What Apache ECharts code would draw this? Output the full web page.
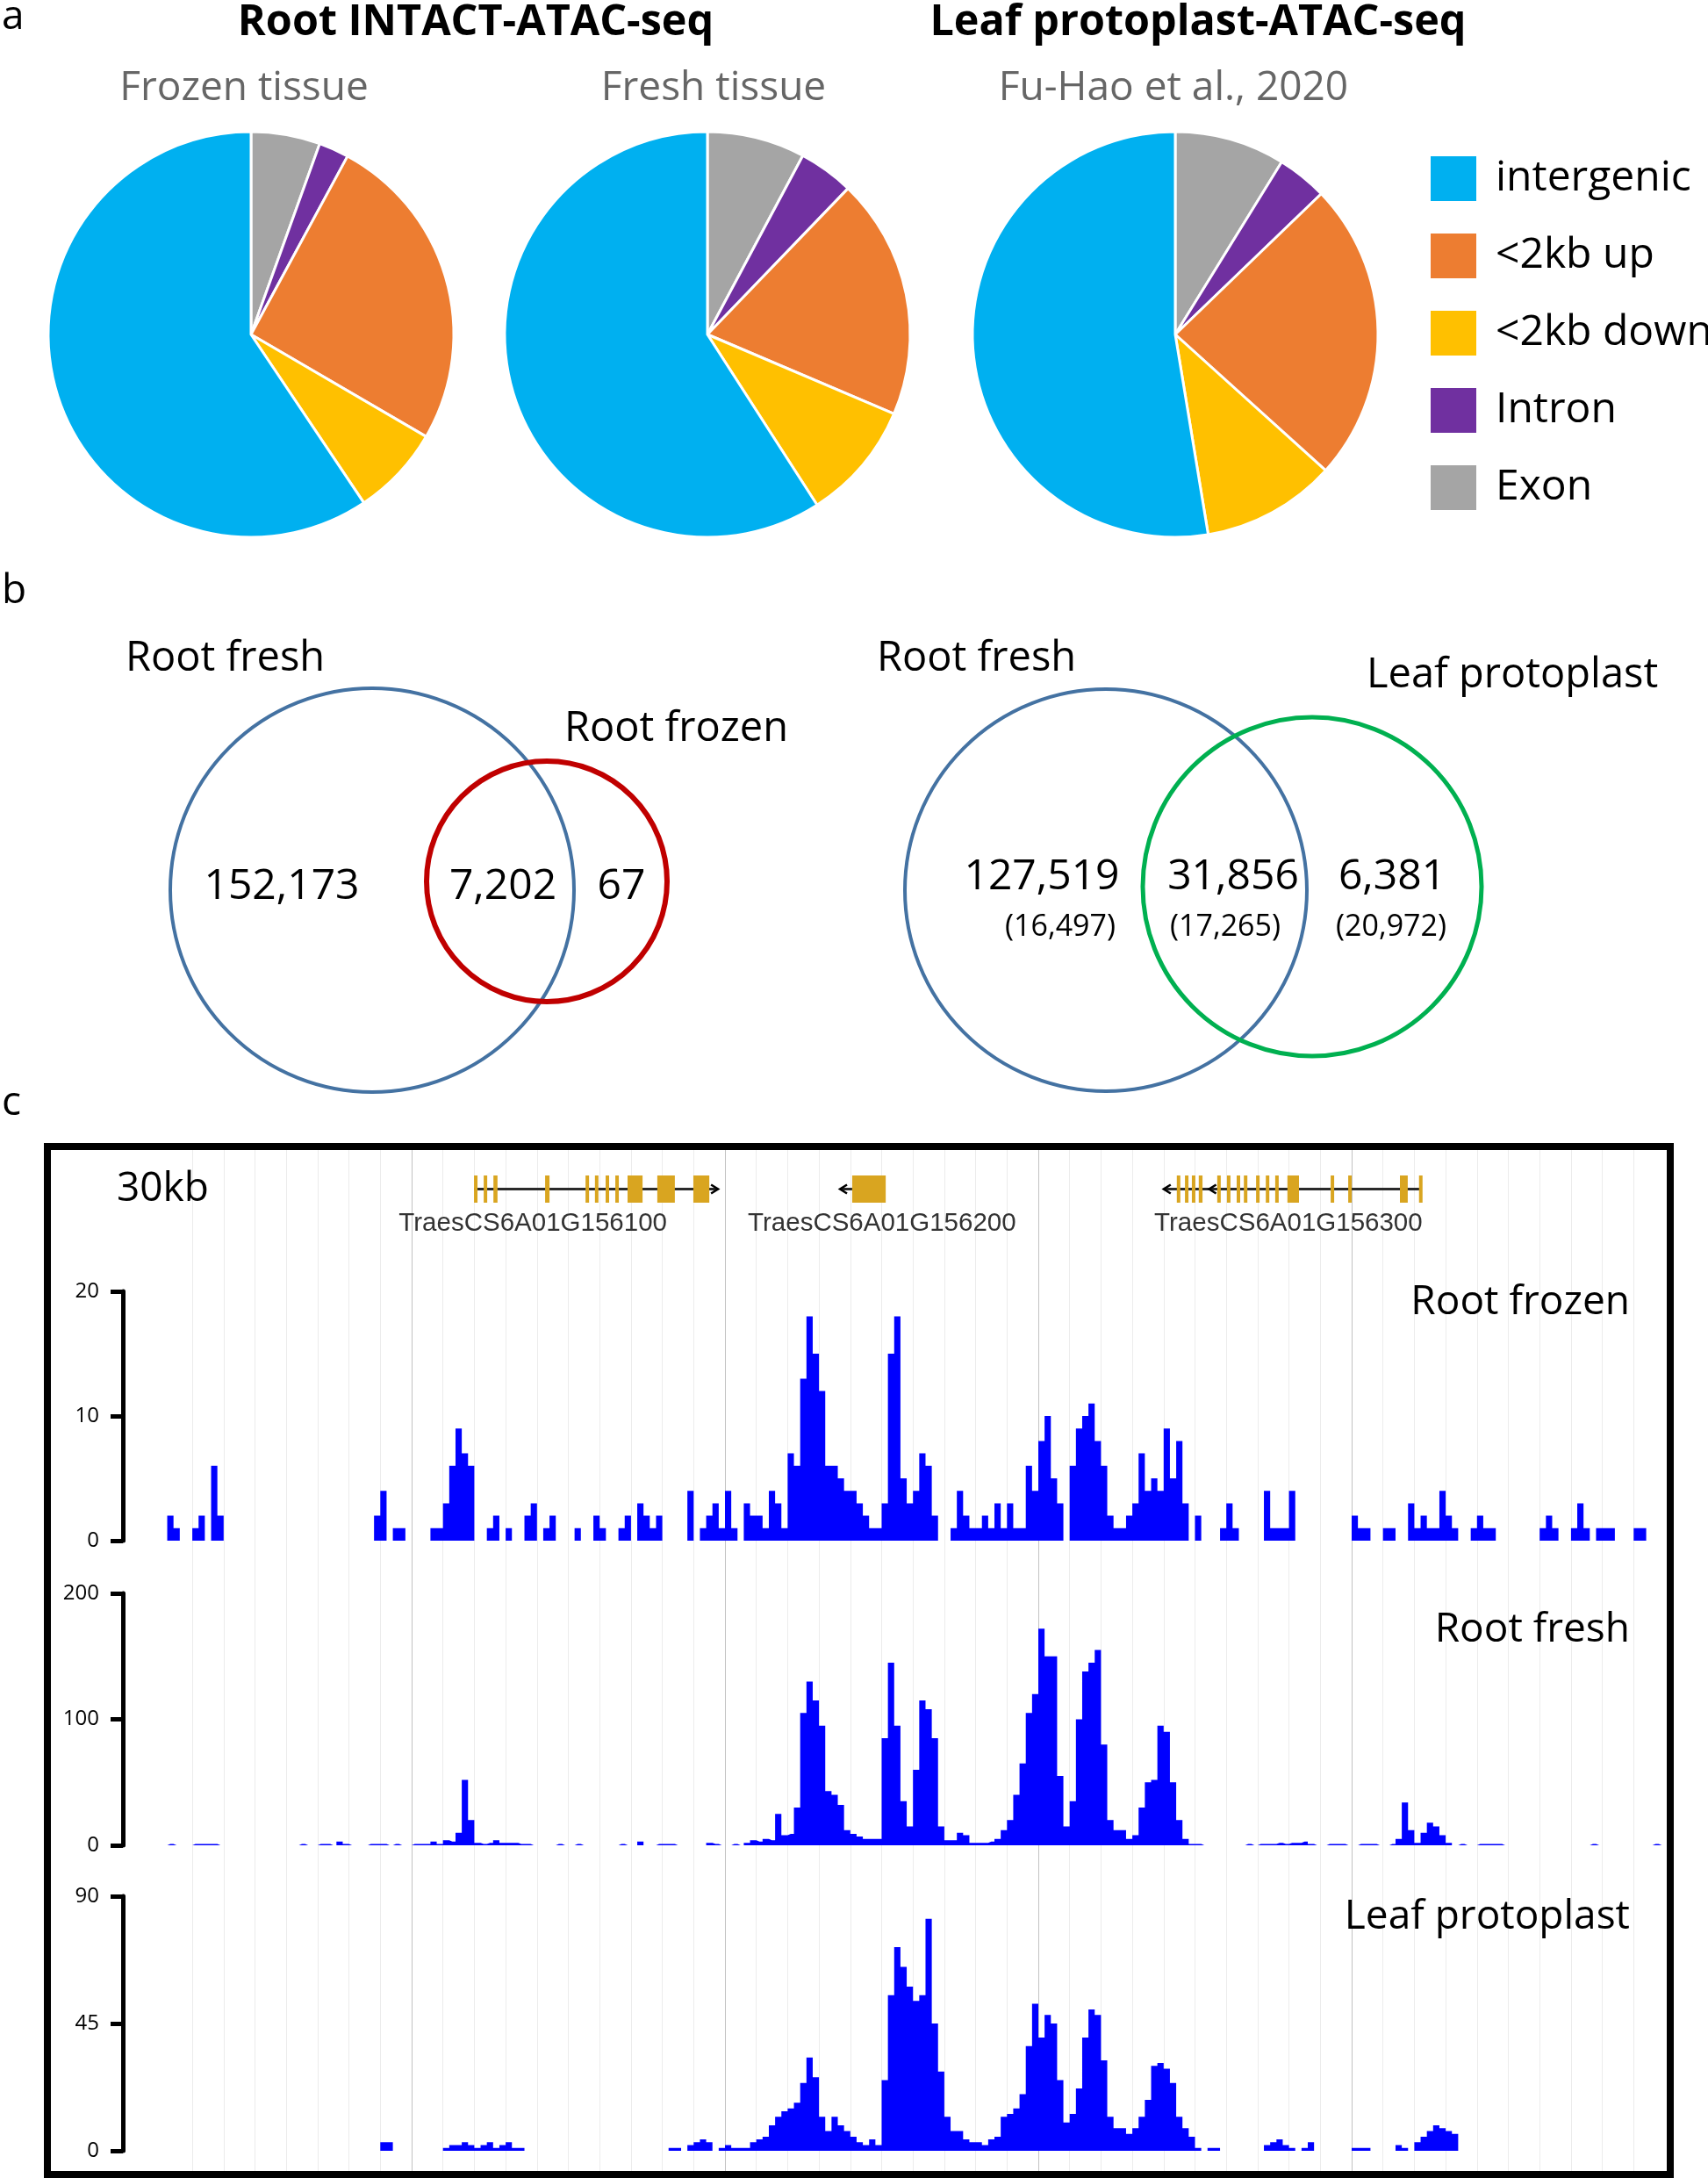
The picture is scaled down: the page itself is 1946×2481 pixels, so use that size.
<!DOCTYPE html>
<html><head><meta charset="utf-8">
<script src="https://cdn.jsdelivr.net/npm/echarts@6/dist/echarts.min.js"></script>
<style>html,body{margin:0;padding:0;background:#fff}#c{width:1946px;height:2481px}</style>
</head><body><div id="c"></div>
<script>
// ===== Panel a: genomic distribution of peaks (%) =====
const annoCategories = ['Exon', 'Intron', '<2kb up', '<2kb down', 'intergenic'];
const legendOrder = ['intergenic', '<2kb up', '<2kb down', 'Intron', 'Exon'];
const pieTitles = ['Frozen tissue', 'Fresh tissue', 'Fu-Hao et al., 2020'];
const pieFrozen = [5.5, 2.4, 25.5, 7.2, 59.4];
const pieFresh = [7.8, 4.4, 19.2, 9.5, 59.1];
const pieLeaf = [8.8, 4.0, 23.9, 10.7, 52.6];
const groupTitles = ['Root INTACT-ATAC-seq', 'Leaf protoplast-ATAC-seq'];

// ===== Panel b: Venn counts =====
const vennLeftLabels = ['Root fresh', 'Root frozen'];
const vennLeftCounts = ['152,173', '7,202', '67'];
const vennRightLabels = ['Root fresh', 'Leaf protoplast'];
const vennRightCounts = ['127,519', '31,856', '6,381'];
const vennRightGenes = ['(16,497)', '(17,265)', '(20,972)'];

// ===== Panel c: browser tracks (bins of 0.2 grid units, 240 bins) =====
const trackNames = ['Root frozen', 'Root fresh', 'Leaf protoplast'];
const frozenTicks = [0, 10, 20];
const freshTicks = [0, 100, 200];
const leafTicks = [0, 45, 90];
const frozen = [
0,2,1,0,0,1,2,0,6,2, 0,0,0,0,0,0,0,0,0,0, 0,0,0,0,0,0,0,0,0,0, 0,0,0,0,2,4,0,1,1,0,
0,0,0,1,1,3,6,9,7,6, 0,0,1,2,0,1,0,0,2,3, 0,1,2,0,0,0,1,0,0,2, 1,0,0,1,2,0,3,2,1,2,
0,0,0,0,4,0,1,2,3,1, 4,1,0,3,2,2,1,4,3,1, 7,6,13,18,15,12,6,6,5,4, 4,3,2,1,1,3,15,18,5,3,
4,7,6,2,0,0,1,4,2,1, 1,2,1,3,1,3,1,1,6,4, 8,10,5,3,0,6,9,10,11,8, 6,2,1,1,2,3,7,4,5,4,
9,5,8,3,0,2,0,0,0,1, 3,1,0,0,0,0,4,1,1,1, 4,0,0,0,0,0,0,0,0,0, 2,1,1,0,0,1,1,0,0,3,
1,2,1,1,4,2,1,0,0,1, 2,1,1,0,0,0,0,0,0,0, 1,2,1,0,0,1,3,1,0,1, 1,1,0,0,0,1,1,0,0,0];
const fresh = [
0,1,0,0,0,1,1,1,1,0, 0,0,0,0,0,0,0,0,0,0, 0,0,1,0,0,1,1,0,3,1, 0,0,0,1,1,1,0,1,0,0,
1,1,1,3,1,4,3,10,52,20, 2,1,2,4,2,2,2,1,1,0, 0,0,0,1,0,0,1,0,0,0, 0,0,0,1,0,0,3,0,0,1,
1,1,0,0,0,0,0,2,1,0, 0,1,0,2,4,3,5,4,25,8, 9,30,105,130,115,95,43,40,32,12, 9,7,5,5,5,85,145,95,35,15,
60,115,108,85,15,4,4,10,8,2, 2,2,3,5,12,20,40,65,105,120, 172,150,150,55,15,35,100,138,145,155, 80,20,12,12,5,8,30,50,52,95,
90,50,20,5,1,1,0,0,0,0, 0,0,0,1,0,1,1,1,2,1, 2,2,3,1,0,0,1,1,1,0, 0,1,1,1,0,0,1,5,34,12,
2,10,18,15,8,2,0,1,0,0, 1,1,1,1,0,0,0,0,0,0, 0,0,0,0,0,0,0,0,1,0, 0,0,0,0,0,0,0,0,1,0];
const leaf = [
0,0,0,0,0,0,0,0,0,0, 0,0,0,0,0,0,0,0,0,0, 0,0,0,0,0,0,0,0,0,0, 0,0,0,0,0,3,3,0,0,0,
0,0,0,0,0,1,2,2,3,2, 1,2,3,1,2,3,1,1,0,0, 0,0,0,0,0,0,0,0,0,0, 0,0,0,0,0,0,0,0,0,0,
0,1,1,0,2,3,4,3,0,1, 2,1,1,1,3,4,5,9,12,14, 15,17,24,33,26,12,7,12,9,7, 5,3,2,4,2,25,55,72,65,58,
53,55,82,45,28,12,7,7,4,3, 3,2,4,5,12,13,15,20,37,52, 40,48,45,25,10,13,22,40,50,48, 32,12,8,8,6,8,12,18,30,31,
29,24,12,8,5,1,0,1,1,0, 0,0,0,0,0,0,2,3,4,2, 1,0,1,3,0,0,0,0,0,0, 1,1,1,0,0,0,0,2,1,0,
3,5,7,9,8,7,6,0,0,0, 0,0,0,0,0,0,0,0,0,0, 0,0,0,0,0,0,0,0,0,0, 0,0,0,0,0,0,0,0,0,0];

// ===== Gene models (grid units) =====
const scaleLabel = '30kb';
const geneNames = ['TraesCS6A01G156100', 'TraesCS6A01G156200', 'TraesCS6A01G156300'];
const geneLabelPos = [11.87, 23.01, 35.98];
const geneSpans = [[9.99, 17.78], [21.67, 22.06], [32.0, 40.24]];
const geneArrows = [[17.78, 1], [21.67, -1], [32.0, -1], [33.45, -1]];
const geneExons = [
 [9.99,10.10],[10.30,10.41],[10.61,10.74],[12.26,12.40],[13.55,13.66],[13.85,13.96],[14.19,14.30],[14.50,14.61],[14.89,15.37],[15.84,16.40],[16.99,17.50],
 [22.06,23.13],
 [32.42,32.53],[32.68,32.79],[32.90,33.01],[33.12,33.24],[33.71,33.79],[34.02,34.10],[34.33,34.41],[34.56,34.65],[34.95,35.03],[35.26,35.34],[35.56,35.65],[35.95,36.32],[37.33,37.44],[37.89,38.00],[39.54,39.79],[40.15,40.24]];

// ===== Layout / style =====
const annoColors = ['#A5A5A5', '#7030A0', '#ED7D31', '#FFC000', '#00B0F0'];
const FONT = 'Open Sans';
const U = 35.7, X0 = 183.4, NU = 48, NBIN = 240;
const TY = 4; // vertical text correction
const binLabels = Array.from({length: NBIN}, (_, i) => i);

function txt(x, y, text, size, opts) {
  const st = Object.assign({text: text, fontSize: size, fontFamily: FONT, fill: '#000',
    align: 'left', verticalAlign: 'middle', textAlign: 'left', textVerticalAlign: 'middle'}, opts || {});
  if (opts && opts.align) st.textAlign = opts.align;
  return {type: 'text', x: x, y: y + TY, z: 100, silent: true, style: st};
}
function circ(cx, cy, r, color, w) {
  return {type: 'circle', z: 90, silent: true, shape: {cx: cx, cy: cy, r: r}, style: {fill: 'none', stroke: color, lineWidth: w}};
}

const graphics = [
  txt(2, 16, 'a', 46),
  txt(542, 22, groupTitles[0], 48.5, {fontWeight: 'bold', align: 'center'}),
  txt(1365, 22, groupTitles[1], 48.5, {fontWeight: 'bold', align: 'center'}),
  txt(278, 97, pieTitles[0], 46, {fill: '#666666', align: 'center'}),
  txt(813, 97, pieTitles[1], 46, {fill: '#666666', align: 'center'}),
  txt(1337, 97, pieTitles[2], 46, {fill: '#666666', align: 'center'}),
  txt(2, 670, 'b', 46),
  txt(143, 747, vennLeftLabels[0], 47),
  txt(643, 827, vennLeftLabels[1], 47),
  txt(999, 747, vennRightLabels[0], 47),
  txt(1557, 766, vennRightLabels[1], 47),
  txt(321, 1006, vennLeftCounts[0], 48, {align: 'center'}),
  txt(573, 1006, vennLeftCounts[1], 48, {align: 'center'}),
  txt(708, 1006, vennLeftCounts[2], 48, {align: 'center'}),
  txt(1187, 995, vennRightCounts[0], 48, {align: 'center'}),
  txt(1405, 995, vennRightCounts[1], 48, {align: 'center'}),
  txt(1586, 995, vennRightCounts[2], 48, {align: 'center'}),
  txt(1208, 1052, vennRightGenes[0], 34, {align: 'center'}),
  txt(1396, 1052, vennRightGenes[1], 34, {align: 'center'}),
  txt(1585, 1052, vennRightGenes[2], 34, {align: 'center'}),
  circ(424, 1014, 230, '#4472A2', 4),
  circ(623, 1004, 137, '#C00000', 6),
  circ(1260, 1014, 229, '#4472A2', 4),
  circ(1495, 1010, 193, '#00B050', 5),
  txt(2, 1253, 'c', 46),
  txt(133, 1351, scaleLabel, 46),
  txt(1857, 1480, trackNames[0], 46, {align: 'right'}),
  txt(1857, 1853, trackNames[1], 46, {align: 'right'}),
  txt(1857, 2180, trackNames[2], 46, {align: 'right'}),
  {type: 'rect', z: 120, silent: true, shape: {x: 54, y: 1306, width: 1849, height: 1171},
   style: {fill: 'none', stroke: '#000', lineWidth: 8}}
];

function pieSeries(center, values) {
  return {
    type: 'pie', center: center, radius: 231, startAngle: 90, clockwise: true,
    silent: true, avoidLabelOverlap: false,
    label: {show: false}, labelLine: {show: false}, emphasis: {disabled: true},
    itemStyle: {borderColor: '#fff', borderWidth: 3},
    data: annoCategories.map((n, i) => ({name: n, value: values[i], itemStyle: {color: annoColors[i]}}))
  };
}

function trackY(gi, ticks) {
  return {
    gridIndex: gi, type: 'value', min: ticks[0], max: ticks[2], interval: ticks[1] - ticks[0],
    position: 'left', offset: X0 - 140,
    axisLine: {show: true, lineStyle: {color: '#000', width: 5}},
    axisTick: {show: true, length: 14, lineStyle: {color: '#000', width: 5}},
    axisLabel: {fontSize: 24, fontFamily: FONT, color: '#000', margin: 27},
    splitLine: {show: false}
  };
}
function trackSeries(gi, data) {
  return {type: 'line', xAxisIndex: gi, yAxisIndex: gi, data: data, step: 'middle',
    symbol: 'none', showSymbol: false, silent: true, lineStyle: {width: 0, color: '#0000FF'},
    areaStyle: {color: '#0000FF', opacity: 1}, z: 5};
}

const trackTops = [1471, 1815, 2160];
const trackHeights = [284, 287, 290];

const option = {
  animation: false,
  backgroundColor: '#fff',
  legend: {
    data: legendOrder, orient: 'vertical', left: 1623, top: 171,
    itemWidth: 54, itemHeight: 53, itemGap: 33, icon: 'rect', selectedMode: false,
    textStyle: {fontSize: 48, lineHeight: 53, fontFamily: FONT, color: '#000', padding: [0, 0, 0, 16]}
  },
  grid: [
    {left: X0, top: 1309, width: NU * U, height: 1164, outerBoundsMode: 'none'},
    {left: X0 - 2 * U, top: 1309, width: (NU + 2) * U, height: 1164, outerBoundsMode: 'none'},
    {left: X0, top: 1339, width: NU * U, height: 31, outerBoundsMode: 'none'},
    {left: X0, top: trackTops[0], width: NU * U, height: trackHeights[0], outerBoundsMode: 'none'},
    {left: X0, top: trackTops[1], width: NU * U, height: trackHeights[1], outerBoundsMode: 'none'},
    {left: X0, top: trackTops[2], width: NU * U, height: trackHeights[2], outerBoundsMode: 'none'}
  ],
  xAxis: [
    {gridIndex: 0, type: 'value', min: 0, max: NU, interval: 1,
     axisLine: {show: false}, axisTick: {show: false}, axisLabel: {show: false},
     splitLine: {show: true, showMinLine: false, showMaxLine: false, lineStyle: {color: '#ececec', width: 1}}},
    {gridIndex: 1, type: 'value', min: 0, max: NU + 2, interval: 10,
     axisLine: {show: false}, axisTick: {show: false}, axisLabel: {show: false},
     splitLine: {show: true, showMinLine: false, showMaxLine: false, lineStyle: {color: '#c2c2c2', width: 1}}},
    {gridIndex: 2, type: 'value', min: 0, max: NU, show: false},
    {gridIndex: 3, type: 'category', data: binLabels, show: false},
    {gridIndex: 4, type: 'category', data: binLabels, show: false},
    {gridIndex: 5, type: 'category', data: binLabels, show: false}
  ],
  yAxis: [
    {gridIndex: 0, type: 'value', show: false},
    {gridIndex: 1, type: 'value', show: false},
    {gridIndex: 2, type: 'value', min: 0, max: 1, show: false},
    trackY(3, frozenTicks),
    trackY(4, freshTicks),
    trackY(5, leafTicks)
  ],
  graphic: graphics,
  series: [
    pieSeries([286, 381], pieFrozen),
    pieSeries([806, 381], pieFresh),
    pieSeries([1339, 381], pieLeaf),
    trackSeries(3, frozen),
    trackSeries(4, fresh),
    trackSeries(5, leaf),
    {type: 'custom', xAxisIndex: 2, yAxisIndex: 2, silent: true, clip: false, z: 6,
     data: geneSpans.map(s => [s[0], s[1], 0.5]), encode: {x: [0, 1], y: 2},
     renderItem: function (params, api) {
       const a = api.coord([api.value(0), 0.5]), b = api.coord([api.value(1), 0.5]);
       return {type: 'line', shape: {x1: a[0], y1: a[1], x2: b[0], y2: b[1]}, style: {stroke: '#2a2a2a', lineWidth: 3}};
     }},
    {type: 'custom', xAxisIndex: 2, yAxisIndex: 2, silent: true, clip: false, z: 7,
     data: geneExons.map(s => [s[0], s[1], 0.5]), encode: {x: [0, 1], y: 2},
     renderItem: function (params, api) {
       const a = api.coord([api.value(0), 1]), b = api.coord([api.value(1), 0]);
       const w = Math.max(b[0] - a[0], 4);
       return {type: 'rect', shape: {x: a[0], y: a[1], width: w, height: b[1] - a[1]}, style: {fill: '#D9A520'}};
     }},
    {type: 'custom', xAxisIndex: 2, yAxisIndex: 2, silent: true, clip: false, z: 8,
     data: geneArrows.map(s => [s[0], 0.5, s[1]]), encode: {x: 0, y: 1},
     renderItem: function (params, api) {
       const p = api.coord([api.value(0), 0.5]); const d = api.value(2);
       return {type: 'polyline', shape: {points: [[p[0] - d * 8, p[1] - 5], [p[0], p[1]], [p[0] - d * 8, p[1] + 5]]},
         style: {stroke: '#000', lineWidth: 2.5, fill: 'none'}};
     }},
    {type: 'custom', xAxisIndex: 2, yAxisIndex: 2, silent: true, clip: false, z: 8,
     data: geneLabelPos.map(p => [p, 0]), encode: {x: 0, y: 1},
     renderItem: function (params, api) {
       const p = api.coord([api.value(0), 0]);
       return {type: 'text', style: {text: geneNames[params.dataIndex], x: p[0], y: p[1] + 24,
         fontSize: 29.5, fontFamily: 'Liberation Sans', fill: '#333',
         align: 'center', verticalAlign: 'middle', textAlign: 'center', textVerticalAlign: 'middle'}};
     }}
  ]
};

const chart = echarts.init(document.getElementById('c'), null, {renderer: 'canvas', width: 1946, height: 2481});
chart.setOption(option);
</script>
</body></html>
